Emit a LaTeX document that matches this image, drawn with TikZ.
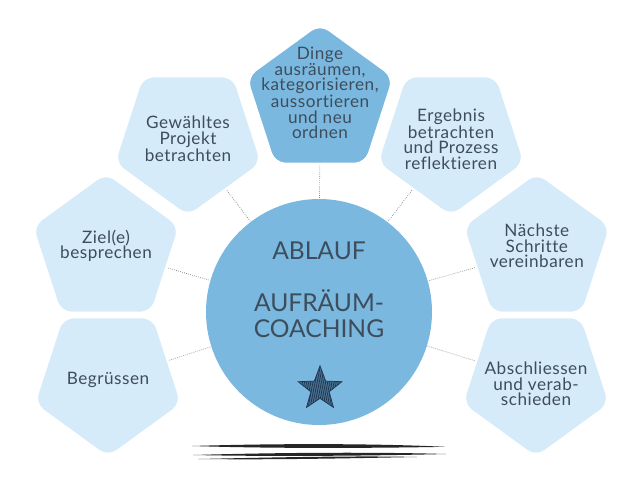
\documentclass[tikz,border=0pt]{standalone}
\usepackage{fontspec}
\setmainfont{Lato}[Ligatures=NoCommon]
\newfontfamily\breit{Lato}[LetterSpace=3,Ligatures=NoCommon]
\usetikzlibrary{shapes.geometric}
\definecolor{kreis}{HTML}{7BB8DF}
\definecolor{hell}{HTML}{D6EBFA}
\definecolor{schrift}{HTML}{3D4D5B}
\definecolor{tinte}{HTML}{1E3550}

\begin{document}
\begin{tikzpicture}[
    penta/.style={regular polygon, regular polygon sides=5, minimum size=3.9cm, inner sep=0pt,
      rounded corners=8pt, fill=hell, draw=white, line width=2pt},
    kopf/.style={shape border rotate=180},
    txt/.style={align=center, text=schrift, font=\breit\fontsize{12.2}{11}\selectfont},
    conn/.style={gray, densely dotted, line width=.5pt}]
  \useasboundingbox (0,0) rectangle (16,-12);

  % mittlerer Kreis
  \node[circle, fill=kreis, minimum size=5.65cm, inner sep=0pt] (cc) at (7.975,-7.8) {};
  \node[align=center, text=schrift, font=\fontsize{17.5}{18.5}\selectfont] (titel) at (7.975,-7.25)
    {ABLAUF\\[18.5pt]AUFRÄUM-\\COACHING};

  % Fuenfecke
  \node[penta, fill=kreis] (s4) at (8.0,-2.525) {};
  \node[penta, kopf] (s3) at (4.7,-3.475) {};
  \node[penta] (s2) at (2.65,-6.25) {};
  \node[penta, kopf] (s1) at (2.7,-9.5) {};
  \node[penta, kopf] (s5) at (11.275,-3.475) {};
  \node[penta] (s6) at (13.42,-6.25) {};
  \node[penta, kopf] (s7) at (13.4,-9.5) {};

  \node[txt] (t4) at (8.0,-2.33) {Dinge\\ausräumen,\\kategorisieren,\\aussortieren\\und neu\\ordnen};
  \node[txt] (t3) at (s3) {Gewähltes\\Projekt\\betrachten};
  \node[txt] (t2) at (2.65,-6.15) {Ziel(e)\\besprechen};
  \node[txt] (t1) at (s1) {Begrüssen};
  \node[txt] (t5) at (s5) {Ergebnis\\betrachten\\und Prozess\\reflektieren};
  \node[txt] (t6) at (13.42,-6.15) {Nächste\\Schritte\\vereinbaren};
  \node[txt] (t7) at (13.4,-9.6) {Abschliessen\\und verab-\\schieden};

  \foreach \s in {s1,s2,s3,s4,s5,s6,s7} \draw[conn] (\s) -- (cc);

  % Stern
  \node[star, star points=5, star point ratio=2.4, minimum size=1.15cm, inner sep=0pt,
    fill=tinte!55!kreis, draw=tinte, line width=.5pt,
    path picture={\foreach \k in {-16,-14.5,...,16}
      \draw[tinte, line width=.5pt] ([xshift=\k pt]path picture bounding box.south) -- ++(7pt,36pt);}]
    (stern) at (8.0,-9.72) {};

  % Pinselstriche
  \fill[black!85] (4.8,-11.15) .. controls (7,-11.08) and (9.5,-11.09) .. (11.13,-11.17)
    .. controls (9.5,-11.2) and (7,-11.22) .. cycle;
  \fill[black!85] (4.825,-11.375) .. controls (7,-11.31) and (9.5,-11.3) .. (11.15,-11.35)
    .. controls (9.5,-11.39) and (7,-11.42) .. cycle;
  \fill[black!85] (4.95,-11.475) .. controls (7,-11.43) and (9,-11.39) .. (10.43,-11.425)
    .. controls (9,-11.45) and (7,-11.5) .. cycle;
\end{tikzpicture}
\end{document}
